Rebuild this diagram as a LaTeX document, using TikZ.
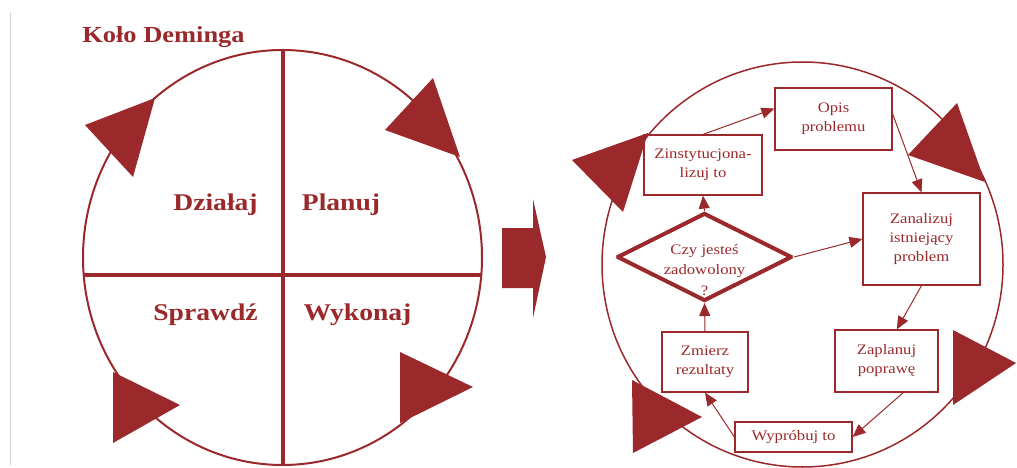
\documentclass[tikz,border=0pt]{standalone}
\usepackage{fontspec}
\setmainfont{Liberation Serif}
\newfontfamily\scanfont{Liberation Serif}[FakeStretch=1.15]
\usetikzlibrary{arrows.meta,shapes.geometric}
\definecolor{dred}{RGB}{155,40,42}
\begin{document}
\begin{tikzpicture}[x=1pt,y=-1pt,
  box/.style={draw=dred, line width=1.2pt, inner sep=0pt, align=center, text=dred,
    font=\scanfont\fontsize{14.5}{19}\selectfont},
  conn/.style={draw=dred, line width=1pt, -{Triangle[length=13pt,width=11pt]}},
  tri/.style={fill=dred},
  quad/.style={text=dred, anchor=base, font=\scanfont\bfseries\fontsize{24}{28}\selectfont},
  ring/.style={draw=dred}
]
\useasboundingbox (0,0) rectangle (1017,468);
\draw[gray!35, line width=0.8pt] (10,12) -- (10,465);

% ---- left circle ----
\node[text=dred, anchor=base, font=\scanfont\bfseries\fontsize{23}{27}\selectfont] (title) at (163.5,43) {Koło Deminga};
\draw[ring, line width=2pt] (282.5,257.5) ellipse [x radius=199.5, y radius=207.5];
\draw[dred, line width=4.5pt] (283,50) -- (283,465);
\draw[dred, line width=4pt] (83,275) -- (481,275);
\node[quad] (dzialaj) at (215.5,210) {Działaj};
\node[quad] (planuj) at (341,210) {Planuj};
\node[quad] (sprawdz) at (205.5,320) {Sprawdź};
\node[quad] (wykonaj) at (357.5,320) {Wykonaj};
\fill[tri] (85,125) -- (155,98) -- (133,177) -- cycle;
\fill[tri] (433,78) -- (385,130) -- (460,157) -- cycle;
\fill[tri] (113,372) -- (180,405) -- (113,443) -- cycle;
\fill[tri] (400,352) -- (473,387) -- (400,423) -- cycle;

% ---- big arrow ----
\fill[dred] (502,228) -- (533,228) -- (533,199) -- (546,257) -- (533,318) -- (533,288) -- (502,288) -- cycle;

% ---- right circle ----
\draw[ring, line width=1.5pt] (802.5,264.5) ellipse [x radius=200.5, y radius=202.5];
\fill[tri] (572,160) -- (648,133) -- (623,212) -- cycle;
\fill[tri] (957,103) -- (908,155) -- (985,182) -- cycle;
\fill[tri] (953,330) -- (1016,363) -- (953,405) -- cycle;
\fill[tri] (632,380) -- (702,417) -- (633,453) -- cycle;

\node[box, minimum width=117pt, minimum height=62pt] (opis) at (833.5,119) {Opis\\problemu};
\node[box, minimum width=118pt, minimum height=60pt] (zinst) at (703,165) {Zinstytucjona-\\lizuj to};
\node[box, minimum width=117pt, minimum height=92pt] (zanal) at (921.5,239) {Zanalizuj\\istniejący\\problem};
\node[box, minimum width=103pt, minimum height=62pt] (zapl) at (886.5,361) {Zaplanuj\\poprawę};
\node[box, minimum width=86pt, minimum height=60pt] (zmierz) at (705,362) {Zmierz\\rezultaty};
\node[box, minimum width=117pt, minimum height=30pt] (wypr) at (793.5,437) {Wypróbuj to};
\node[draw=dred, line width=4pt, diamond, minimum width=175pt, minimum height=88pt, inner sep=0pt] (dec) at (704.5,257) {};
\node[text=dred, align=center, font=\scanfont\fontsize{14.5}{20.5}\selectfont] (dtext) at (704.5,270) {Czy jesteś\\zadowolony\\?};
\fill[white] (dec.west) circle (1.6pt);
\fill[white] (dec.east) circle (1.6pt);

\draw[conn] (zinst.north) -- (opis.170);
\draw[conn] (opis.5) -- (zanal.north);
\draw[conn] (zanal.south) -- (zapl.72);
\draw[conn] (zapl.-62) -- (wypr.east);
\draw[conn] (wypr.west) -- (zmierz.south);
\draw[conn] (zmierz.north) -- (dec.south);
\draw[conn] (dec.north) -- (zinst.south);
\draw[conn] (dec.east) -- (zanal.west);
\end{tikzpicture}
\end{document}
